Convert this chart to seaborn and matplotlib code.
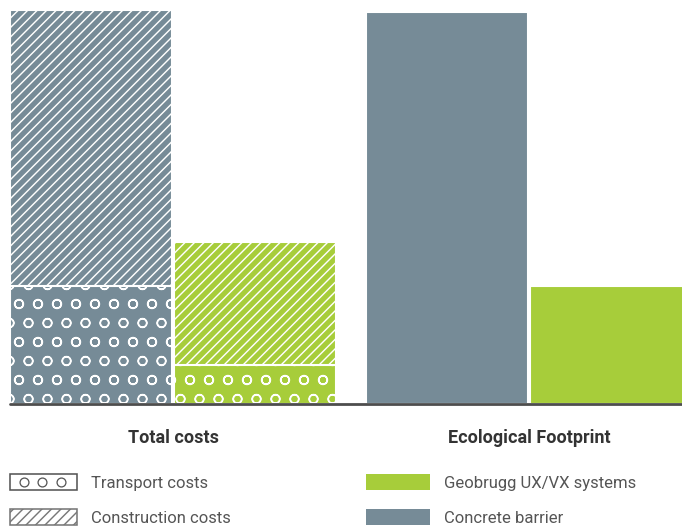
import pandas as pd
import matplotlib.pyplot as plt
import matplotlib.hatch
from matplotlib.patches import Patch, Rectangle
from matplotlib.lines import Line2D
from matplotlib.legend_handler import HandlerBase
import seaborn as sns

# Data (relative units, concrete total costs = 100)
systems = ["Concrete barrier", "Geobrugg UX/VX systems"]
transport_costs = [30, 10]
construction_costs = [70, 31]
eco_footprint = [99.5, 30]
group_labels = ["Total costs", "Ecological Footprint"]

colors = {"Concrete barrier": "#768b97", "Geobrugg UX/VX systems": "#a7cd3a"}

# dpi 114 so the hatch pattern spacing matches the reference (~19 px)
DPI = 114
k = 100 / DPI  # convert sizes tuned at 100 dpi

sns.set_theme(style="white")
plt.rcParams['font.family'] = ['Roboto', 'DejaVu Sans']
plt.rcParams['hatch.linewidth'] = 0.9
# slightly bigger 'o' hatch circles, closer to the reference
matplotlib.hatch.SmallCircles.size = 0.235

# bar positions on the x axis (two groups with a gap)
cost_pos = [0, 1]
eco_pos = [2.17, 3.17]

costs = pd.DataFrame({
    "system": systems,
    "pos": cost_pos,
    "transport": transport_costs,
    "total": [t + c for t, c in zip(transport_costs, construction_costs)],
})
eco = pd.DataFrame({"system": systems, "pos": eco_pos, "footprint": eco_footprint})

fig = plt.figure(figsize=(682 / DPI, 527 / DPI), dpi=DPI)
ax = fig.add_axes([10/682, 123/527, 672/682, 404/527])

bar_kw = dict(hue="system", palette=colors, native_scale=True, orient="x",
              width=0.988, saturation=1, edgecolor="white", linewidth=1.5 * k,
              legend=False, ax=ax)

# total cost bars (construction part shows above transport)
sns.barplot(data=costs, x="pos", y="total", hatch="////", **bar_kw)
# transport part drawn over the bottom of each bar
sns.barplot(data=costs, x="pos", y="transport", hatch="o", **bar_kw)
# ecological footprint
sns.barplot(data=eco, x="pos", y="footprint", **bar_kw)

ax.set_xlim(-0.494, -0.494 + 672/164)
ax.set_ylim(0, 100 * 404/394)
ax.axhline(0, color="#4d4d4d", lw=2 * k, clip_on=False, zorder=5)

for s in ax.spines.values():
    s.set_visible(False)
ax.set_yticks([])
ax.set_xticks([sum(cost_pos)/2, sum(eco_pos)/2])
ax.set_xticklabels(group_labels, fontweight="bold", fontsize=13 * k, color="#333333")
ax.tick_params(axis="x", length=0, pad=18 * k)
ax.set_xlabel("")
ax.set_ylabel("")


# legend glyph for transport costs: white box with three small circles
class CircleBox(HandlerBase):
    def create_artists(self, legend, orig_handle, xdescent, ydescent,
                       width, height, fontsize, trans):
        rect = Rectangle((-xdescent, -ydescent), width, height, facecolor="white",
                         edgecolor="#555555", lw=1.0, transform=trans)
        xs = [-xdescent + width * f for f in (0.21, 0.48, 0.76)]
        ys = [-ydescent + height / 2] * 3
        dots = Line2D(xs, ys, ls="none", marker="o", ms=5.6, mfc="none",
                      mec="#555555", mew=0.8, transform=trans)
        return [rect, dots]


leg_kw = dict(loc="upper left", frameon=False, fontsize=12 * k, labelcolor="#555555",
              handlelength=4.0, handleheight=1.1, handletextpad=0.85,
              labelspacing=1.12, borderpad=0, borderaxespad=0)
transport_handle = Patch(facecolor="white", edgecolor="#555555", label="Transport costs")
h1 = [transport_handle,
      Patch(facecolor="white", edgecolor="#777777", hatch="////", label="Construction costs")]
fig.legend(handles=h1, bbox_to_anchor=(10/682, 1 - 474/527),
           handler_map={transport_handle: CircleBox()}, **leg_kw)
h2 = [Patch(facecolor=colors[s], edgecolor="none", label=s) for s in
      ["Geobrugg UX/VX systems", "Concrete barrier"]]
leg_kw["handlelength"] = 3.85
fig.legend(handles=h2, bbox_to_anchor=(366/682, 1 - 474/527), **leg_kw)

fig.savefig("out.png", dpi=DPI)
